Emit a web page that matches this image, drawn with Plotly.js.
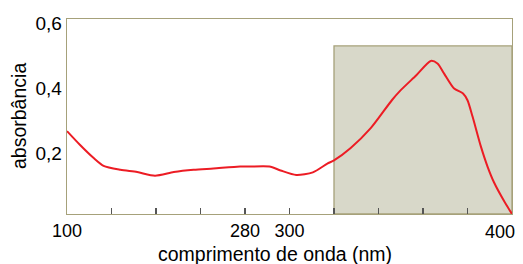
<!DOCTYPE html>
<html>
<head>
<meta charset="utf-8">
<script src="https://cdn.plot.ly/plotly-3.0.1.min.js"></script>
<style>
html,body{margin:0;padding:0;background:#fff;}
#chart{width:523px;height:264px;}
</style>
</head>
<body>
<div id="chart"></div>
<script>
// Data (wavelength in nm, absorbance)
const wavelength = [100,113,127,137,154,171,189,208,228,248,275,282,291,296,303,310.5,317,320,327.5,336.5,346,350,357,363.5,366.5,369.5,374,378,380,382.3,386,389,392,396.5,400];
const absorbance = [0.255,0.213,0.172,0.148,0.136,0.129,0.118,0.129,0.136,0.140,0.146,0.146,0.146,0.134,0.120,0.128,0.155,0.165,0.203,0.264,0.350,0.381,0.427,0.471,0.463,0.432,0.386,0.371,0.350,0.299,0.208,0.146,0.096,0.039,0.0];

// Tick marks on the (broken) wavelength axis
const xTickNm = [100,145,190,235,280,300,320,340,360,380,400];
const xTickText = ['100','','','','280','300','','','','',''];
const xEndLabel = '400';
const yTickVals = [0.2,0.4,0.6];
const yTickText = ['0,2','0,4','0,6'];

// Shaded region (nm range, top absorbance)
const bandStart = 320, bandEnd = 400, bandTop = 0.517;

const xTitle = 'comprimento de onda (nm)';
const yTitle = 'absorbância';

// Axis scale: 100-280 nm compressed (45 nm per tick), 280-400 nm at 20 nm per tick
function pos(nm){ return nm <= 280 ? (nm - 100) / 45 : 4 + (nm - 280) / 20; }

const FONT = '"Liberation Sans", Arial, sans-serif';
const frame = '#a6a17a';

const trace = {
  x: wavelength.map(pos), y: absorbance, type: 'scatter', mode: 'lines',
  line: {color: '#ec1c24', width: 2, shape: 'spline', smoothing: 0.7},
  hoverinfo: 'skip', showlegend: false
};

const layout = {
  width: 523, height: 264,
  margin: {l: 67, r: 11, t: 18.5, b: 49.5},
  paper_bgcolor: '#fff', plot_bgcolor: '#fff',
  font: {family: FONT, color: '#000'},
  xaxis: {
    range: [pos(100), pos(400)], fixedrange: true,
    tickmode: 'array', tickvals: xTickNm.map(pos), ticktext: xTickText,
    ticks: 'inside', ticklen: 6, tickwidth: 1.4, tickcolor: '#555',
    tickfont: {size: 18, family: FONT, color: '#000'},
    showline: true, mirror: true, linecolor: frame, linewidth: 1.3,
    showgrid: false, zeroline: false
  },
  yaxis: {
    range: [0, 0.6], fixedrange: true,
    tickmode: 'array', tickvals: yTickVals, ticktext: yTickText,
    ticks: '', tickfont: {size: 19, family: FONT, color: '#000'},
    ticklabelshift: 4,
    showline: true, mirror: true, linecolor: frame, linewidth: 1.3,
    showgrid: false, zeroline: false
  },
  shapes: [{
    type: 'rect', xref: 'x', yref: 'y', layer: 'below',
    x0: pos(bandStart), x1: pos(bandEnd), y0: 0, y1: bandTop,
    fillcolor: '#d8d8c9', line: {color: frame, width: 1.3}
  }],
  annotations: [
    {text: xEndLabel, xref: 'x', yref: 'paper', x: pos(400), y: 0, xanchor: 'right', yanchor: 'top',
     xshift: 5, yshift: -6, showarrow: false, font: {size: 18, family: FONT, color: '#000'}},
    {text: xTitle, xref: 'paper', yref: 'paper', x: (274.5 - 67) / 445, y: 0, xanchor: 'center', yanchor: 'top',
     yshift: -27, showarrow: false, font: {size: 19.5, family: FONT, color: '#000'}},
    {text: yTitle, xref: 'paper', yref: 'paper', x: (18.5 - 67) / 445, y: 0.5, xanchor: 'center', yanchor: 'middle',
     textangle: -90, showarrow: false, font: {size: 19.5, family: FONT, color: '#000'}}
  ]
};

Plotly.newPlot('chart', [trace], layout, {staticPlot: true, displayModeBar: false});
</script>
</body>
</html>
